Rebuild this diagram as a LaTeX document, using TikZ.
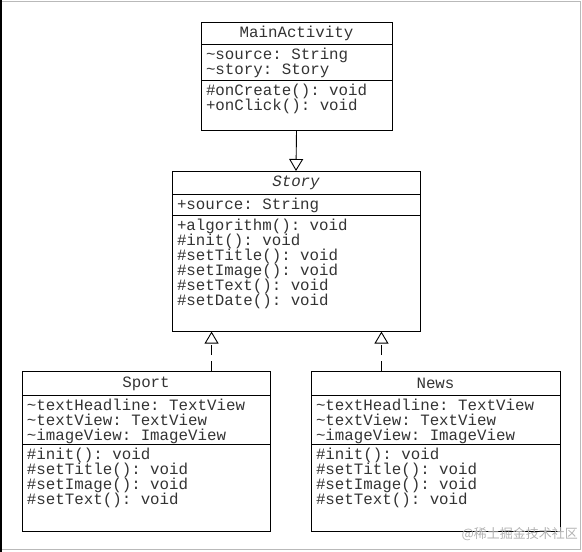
\documentclass[tikz,border=0pt]{standalone}
\usepackage{fontspec}
\newfontfamily\umlfont{Liberation Mono}
\newfontfamily\cjkfont{Noto Sans CJK SC}
\usetikzlibrary{shapes.multipart, arrows.meta, positioning, calc}

% compartments of a class box
\newcommand{\classhead}[3]{\parbox[c][#2][c]{#1}{\centering #3}}
\newcommand{\classpart}[3]{\parbox[c][#2][t]{#1}{\raggedright\leftskip=5pt\rule{0pt}{14.5pt}#3}}

\begin{document}
\begin{tikzpicture}[
        x=1pt, y=-1pt,
        % Global Styles
        umlclass/.style={rectangle split, rectangle split parts=3, draw=black, line width=0.9pt, inner sep=0pt, anchor=north, text=black!80, font=\umlfont\fontsize{15.8}{15}\selectfont\frenchspacing},
        gen/.style={line width=0.9pt, -{Triangle[open, length=12pt, width=14pt, fill=white]}},
        realize/.style={gen, dash pattern=on 10pt off 6pt},
        watermark/.style={font=\cjkfont\fontsize{13}{13}\selectfont, text=black!30, inner sep=0pt}
    ]
    \useasboundingbox (0,0) rectangle (582,552);

    % --- Frame ---
    \draw[gray!55] (1,1.5) rectangle (580.5,549.5);
    \draw[line width=1.5pt] (0.75,0) -- (0.75,552);

    % --- Top: MainActivity ---
    \node (main) [umlclass] at (296.5,22) {\classhead{191pt}{21pt}{MainActivity}
        \nodepart{two}\classpart{191pt}{35pt}{\textasciitilde source: String\\\textasciitilde story: Story}
        \nodepart{three}\classpart{191pt}{49.5pt}{\#onCreate(): void\\+onClick(): void}};

    % --- Middle: abstract Story ---
    \node (story) [umlclass] at (296,171) {\classhead{248pt}{22pt}{\itshape Story}
        \nodepart{two}\classpart{248pt}{20pt}{+source: String}
        \nodepart{three}\classpart{248pt}{115pt}{+algorithm(): void\\\#init(): void\\\#setTitle(): void\\\#setImage(): void\\\#setText(): void\\\#setDate(): void}};

    % --- Bottom: Sport and News ---
    \node (sport) [umlclass] at (146,371) {\classhead{248pt}{23pt}{Sport}
        \nodepart{two}\classpart{248pt}{48pt}{\textasciitilde textHeadline: TextView\\\textasciitilde textView: TextView\\\textasciitilde imageView: ImageView}
        \nodepart{three}\classpart{248pt}{86pt}{\#init(): void\\\#setTitle(): void\\\#setImage(): void\\\#setText(): void}};
    \node (news) [umlclass] at (435.5,371) {\classhead{249pt}{23pt}{News}
        \nodepart{two}\classpart{249pt}{48pt}{\textasciitilde textHeadline: TextView\\\textasciitilde textView: TextView\\\textasciitilde imageView: ImageView}
        \nodepart{three}\classpart{249pt}{86pt}{\#init(): void\\\#setTitle(): void\\\#setImage(): void\\\#setText(): void}};

    % --- CONNECTIONS ---
    \draw [gen] (main.south) -- (story.north);

    \coordinate (sportHook) at ($(story.south west)+(40,0)$);
    \coordinate (newsHook) at ($(story.south east)+(-39,0)$);
    \draw [realize] (sport.north -| sportHook) -- (sportHook);
    \draw [realize] (news.north -| newsHook) -- (newsHook);

    \node (mark) [watermark, anchor=east] at (578,534) {@稀土掘金技术社区};

\end{tikzpicture}
\end{document}
